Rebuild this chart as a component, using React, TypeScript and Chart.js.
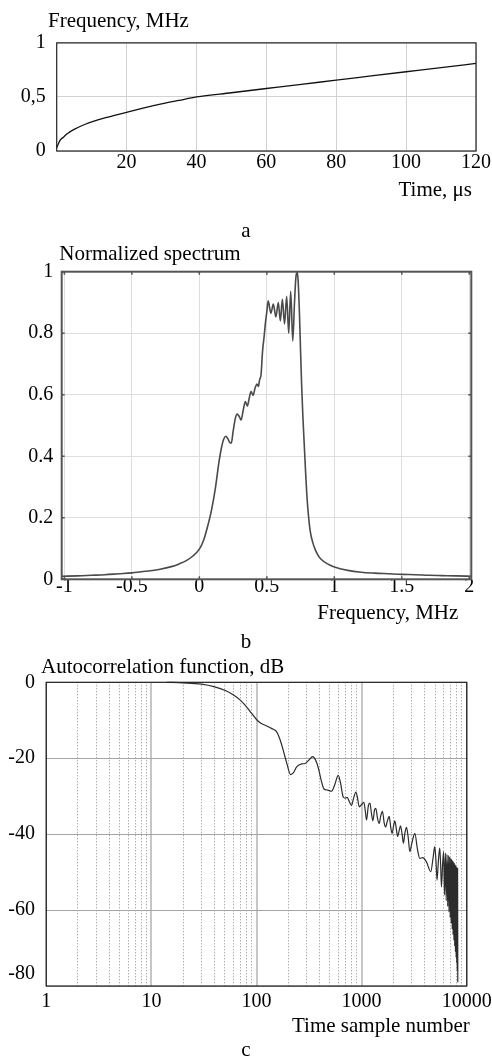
import React, { useEffect, useRef } from 'react';
import { Chart, registerables } from 'chart.js';

Chart.register(...registerables);

const FONT = '"Liberation Serif", "Times New Roman", serif';

// ---------- Panel a: chirp frequency vs time ----------
const A_TIME = [0, 1, 2, 3, 5, 8, 12, 16, 20, 25, 30, 35, 40, 50, 60, 70, 80, 90, 100, 110, 120];
const A_FREQ = [0.03, 0.1, 0.13, 0.16, 0.2, 0.245, 0.29, 0.325, 0.358, 0.398, 0.435, 0.468, 0.5, 0.539, 0.578, 0.617, 0.655, 0.694, 0.733, 0.772, 0.81];
const A_XTICKS = [20, 40, 60, 80, 100, 120];
const A_YTICKS = [0, 0.5, 1];
const A_YTICK_LABELS = ['0', '0,5', '1'];

// ---------- Panel b: normalized spectrum ----------
const B_FREQ = [-1.02, -0.9, -0.8, -0.7, -0.6, -0.5, -0.4, -0.3, -0.2, -0.15, -0.1, -0.05, 0, 0.03, 0.06, 0.09, 0.12, 0.145, 0.165, 0.18, 0.195, 0.21, 0.225, 0.237, 0.25, 0.265, 0.279, 0.295, 0.309, 0.325, 0.341, 0.356, 0.37, 0.383, 0.398, 0.412, 0.427, 0.437, 0.447, 0.457, 0.468, 0.48, 0.49, 0.5, 0.51, 0.53, 0.548, 0.567, 0.585, 0.6, 0.615, 0.631, 0.647, 0.662, 0.677, 0.692, 0.705, 0.715, 0.724, 0.732, 0.742, 0.75, 0.758, 0.767, 0.777, 0.787, 0.797, 0.81, 0.822, 0.84, 0.86, 0.88, 0.9, 0.95, 1.0, 1.1, 1.2, 1.3, 1.4, 1.5, 1.6, 1.7, 1.8, 1.9, 2.015];
const B_SPECTRUM = [0.010, 0.011, 0.013, 0.015, 0.018, 0.021, 0.026, 0.032, 0.042, 0.050, 0.060, 0.075, 0.098, 0.125, 0.170, 0.225, 0.300, 0.380, 0.430, 0.455, 0.465, 0.458, 0.445, 0.443, 0.480, 0.520, 0.537, 0.530, 0.518, 0.550, 0.578, 0.563, 0.590, 0.610, 0.598, 0.620, 0.635, 0.627, 0.650, 0.665, 0.740, 0.790, 0.835, 0.870, 0.905, 0.865, 0.895, 0.853, 0.900, 0.840, 0.910, 0.830, 0.920, 0.800, 0.936, 0.775, 0.900, 0.980, 1.000, 0.970, 0.860, 0.740, 0.630, 0.530, 0.440, 0.350, 0.270, 0.200, 0.155, 0.120, 0.095, 0.078, 0.066, 0.050, 0.040, 0.029, 0.023, 0.020, 0.018, 0.016, 0.015, 0.013, 0.012, 0.011, 0.010];
const B_XTICKS = [-1, -0.5, 0, 0.5, 1, 1.5, 2];
const B_XTICK_LABELS = ['-1', '-0.5', '0', '0.5', '1', '1.5', '2'];
const B_YTICKS = [0, 0.2, 0.4, 0.6, 0.8, 1];
const B_YTICK_LABELS = ['0', '0.2', '0.4', '0.6', '0.8', '1'];

// ---------- Panel c: autocorrelation function (dB) ----------
const C_SAMPLE = [14, 20, 30, 40, 50, 60, 70, 80, 90, 100, 110, 125, 140, 155, 167, 180, 195, 211, 225, 241, 269, 289, 315, 342, 365, 387, 410, 438, 475, 518, 555, 599, 630, 668, 700, 730, 760, 802, 840, 882, 915, 949, 1000, 1050, 1080, 1114, 1160, 1200, 1240, 1280, 1330, 1365, 1420, 1470, 1520, 1580, 1640, 1690, 1760, 1830, 1900, 1950, 2010, 2070, 2150, 2200, 2280, 2345, 2430, 2500, 2580, 2675, 2780, 2875, 3000, 3210, 3400, 3575, 3800, 4140, 4550, 4800, 4966, 5100, 5220, 5380, 5540, 5650, 5750, 5900, 6030, 6150, 6270, 6380, 6490, 6590, 6690, 6780, 6870, 6960, 7040, 7120, 7200, 7280, 7350, 7420, 7490, 7560, 7620, 7690, 7750, 7810, 7870, 7930, 7980, 8040, 8090, 8140, 8190, 8230];
const C_ACF_DB = [0, -0.15, -0.5, -1.2, -2.1, -3.3, -4.7, -6.4, -8.2, -9.8, -10.8, -11.5, -12.2, -13, -15, -18, -21.5, -24.3, -23.8, -22.3, -21.5, -21.4, -20.5, -19.6, -20.5, -22.5, -25.5, -28.1, -28.4, -28.7, -27, -24.5, -26.5, -30.2, -30.5, -30.3, -31.3, -32.4, -30.5, -28.9, -30.5, -32.8, -32.2, -31.6, -33.5, -36.3, -32.5, -31.8, -34.5, -36.5, -33.5, -33.2, -36, -37.2, -35.2, -34, -37, -38.1, -36.5, -35.3, -38.5, -39.8, -38, -36.5, -39, -40.6, -39, -37.8, -40, -42.4, -39.8, -38.2, -41, -44.6, -42.5, -39.8, -44, -46.4, -46.2, -47.3, -49.9, -46, -43.3, -47, -52.1, -47, -43.7, -48, -53.9, -48, -44.6, -56, -45, -57.5, -45.3, -59, -45.6, -60.5, -46, -62, -46.3, -63.5, -46.6, -65, -47, -66.5, -47.3, -68, -47.6, -69.5, -48, -71, -48.3, -72.5, -48.6, -74, -48.8, -76, -49, -79];
const C_XTICKS = [1, 10, 100, 1000, 10000];
const C_XGRID_DECADES = [1, 10, 100, 1000];
const C_XGRID_STEPS = [1, 2, 3, 4, 5, 6, 7, 8, 9];
const C_YTICKS = [-80, -60, -40, -20, 0];

const C_XGRID = C_XGRID_DECADES.flatMap((d) => C_XGRID_STEPS.map((k) => k * d)).concat([10000]);

// Draws the box around the plot area (optionally with short inward tick marks).
const framePlugin = {
  id: 'frame',
  afterDraw(chart: any, _args: any, opts: any) {
    const { ctx, chartArea } = chart;
    const { left, top, right, bottom } = chartArea;
    ctx.save();
    ctx.strokeStyle = opts.color || '#000';
    ctx.lineWidth = opts.width || 1;
    ctx.strokeRect(left, top, right - left, bottom - top);
    if (opts.tickLen) {
      const len = opts.tickLen;
      ctx.lineWidth = 1.5;
      ctx.beginPath();
      const xs = chart.scales.x;
      const ys = chart.scales.y;
      xs.ticks.forEach((t: any) => {
        const px = xs.getPixelForValue(t.value);
        ctx.moveTo(px, top);
        ctx.lineTo(px, top + len);
        ctx.moveTo(px, bottom);
        ctx.lineTo(px, bottom - len);
      });
      ys.ticks.forEach((t: any) => {
        const py = ys.getPixelForValue(t.value);
        ctx.moveTo(left, py);
        ctx.lineTo(left + len, py);
        ctx.moveTo(right, py);
        ctx.lineTo(right - len, py);
      });
      ctx.stroke();
    }
    ctx.restore();
  },
};

// Moves the chart title and the x-axis title horizontally (layout only).
const shiftPlugin = {
  id: 'shift',
  afterLayout(chart: any, _args: any, opts: any) {
    const t = chart.titleBlock;
    if (t && typeof opts.titleLeft === 'number') {
      const w = t.right - t.left;
      t.left = opts.titleLeft;
      t.right = opts.titleLeft + w;
    }
    const x = chart.scales && chart.scales.x;
    if (x && typeof opts.xTitleDx === 'number') {
      x.right = x.right + opts.xTitleDx;
    }
  },
};

const tickFont = { family: FONT, size: 20, weight: 'normal' as const };
const titleFont = { family: FONT, size: 21, weight: 'normal' as const };

function setTicks(list: number[]) {
  return (scale: any) => {
    scale.ticks = list.map((v) => ({ value: v }));
  };
}
function fixX(h: number) {
  return (scale: any) => {
    scale.height = h;
    scale.paddingLeft = 0;
    scale.paddingRight = 0;
  };
}
function fixY(w: number) {
  return (scale: any) => {
    scale.width = w;
    scale.paddingTop = 0;
    scale.paddingBottom = 0;
  };
}
function labelFrom(values: number[], labels: string[]) {
  return (v: number) => {
    const i = values.findIndex((t) => Math.abs(t - v) < 1e-9);
    return i >= 0 ? labels[i] : '';
  };
}

function pts(xs: number[], ys: number[]) {
  return xs.map((x, i) => ({ x, y: ys[i] }));
}

function configA(): any {
  return {
    type: 'scatter',
    data: {
      datasets: [
        {
          data: pts(A_TIME, A_FREQ),
          showLine: true,
          borderColor: '#111',
          borderWidth: 1.3,
          pointRadius: 0,
          cubicInterpolationMode: 'monotone',
          clip: false,
        },
      ],
    },
    options: {
      animation: false,
      responsive: false,
      devicePixelRatio: 1,
      layout: { padding: { left: 0, right: 16, top: 0, bottom: 37 } },
      plugins: {
        legend: { display: false },
        tooltip: { enabled: false },
        title: {
          display: true,
          text: 'Frequency, MHz',
          align: 'start',
          color: '#000',
          font: titleFont,
          padding: { top: 9, bottom: 8.7 },
        },
        frame: { color: '#222', width: 1.2 },
        shift: { titleLeft: 48, xTitleDx: -4 },
      },
      scales: {
        x: {
          type: 'linear',
          min: 0,
          max: 120,
          afterBuildTicks: setTicks(A_XTICKS),
          afterFit: fixX(52),
          grid: { color: '#d2d2d2', lineWidth: 1, drawTicks: false },
          border: { display: false },
          ticks: { color: '#000', font: tickFont, padding: 0, maxRotation: 0, autoSkip: false },
          title: { display: true, text: 'Time, μs', align: 'end', color: '#000', font: titleFont, padding: { top: 0, bottom: 0 } },
        },
        y: {
          type: 'linear',
          min: 0,
          max: 1,
          afterBuildTicks: setTicks(A_YTICKS),
          afterFit: fixY(56.7),
          grid: { color: '#d2d2d2', lineWidth: 1, drawTicks: false },
          border: { display: false },
          ticks: {
            color: '#000',
            font: tickFont,
            padding: 11,
            autoSkip: false,
            callback: labelFrom(A_YTICKS, A_YTICK_LABELS),
          },
        },
      },
    },
    plugins: [framePlugin, shiftPlugin],
  };
}

function configB(): any {
  return {
    type: 'scatter',
    data: {
      datasets: [
        {
          data: pts(B_FREQ, B_SPECTRUM),
          showLine: true,
          borderColor: '#4a4a4a',
          borderWidth: 1.6,
          pointRadius: 0,
          cubicInterpolationMode: 'monotone',
          clip: false,
        },
      ],
    },
    options: {
      animation: false,
      responsive: false,
      devicePixelRatio: 1,
      layout: { padding: { left: 0, right: 20.7, top: 0, bottom: 14.4 } },
      plugins: {
        legend: { display: false },
        tooltip: { enabled: false },
        title: {
          display: true,
          text: 'Normalized spectrum',
          align: 'start',
          color: '#000',
          font: titleFont,
          padding: { top: 2, bottom: 4.5 },
        },
        frame: { color: '#555', width: 2, tickLen: 3 },
        shift: { titleLeft: 59.3, xTitleDx: -13 },
      },
      scales: {
        x: {
          type: 'linear',
          min: -1.02,
          max: 2.015,
          afterBuildTicks: setTicks(B_XTICKS),
          afterFit: fixX(46.3),
          grid: { color: '#dedede', lineWidth: 1, drawTicks: false },
          border: { display: false },
          ticks: {
            color: '#000',
            font: { ...tickFont, lineHeight: '14px' },
            padding: 0,
            maxRotation: 0,
            autoSkip: false,
            callback: labelFrom(B_XTICKS, B_XTICK_LABELS),
          },
          title: { display: true, text: 'Frequency, MHz', align: 'end', color: '#000', font: titleFont, padding: { top: 0, bottom: 0 } },
        },
        y: {
          type: 'linear',
          min: 0,
          max: 1,
          afterBuildTicks: setTicks(B_YTICKS),
          afterFit: fixY(61.7),
          grid: { color: '#dedede', lineWidth: 1, drawTicks: false },
          border: { display: false },
          ticks: {
            color: '#000',
            font: tickFont,
            padding: 8.4,
            autoSkip: false,
            callback: labelFrom(B_YTICKS, B_YTICK_LABELS),
          },
        },
      },
    },
    plugins: [framePlugin, shiftPlugin],
  };
}

function configC(): any {
  const isMajor = (ctx: any) => C_XTICKS.includes(ctx?.tick?.value);
  return {
    type: 'scatter',
    data: {
      datasets: [
        {
          data: pts(C_SAMPLE, C_ACF_DB),
          showLine: true,
          borderColor: '#2c2c2c',
          borderWidth: 1.2,
          pointRadius: 0,
          cubicInterpolationMode: 'monotone',
          clip: false,
        },
      ],
    },
    options: {
      animation: false,
      responsive: false,
      devicePixelRatio: 1,
      layout: { padding: { left: 0, right: 25.3, top: 0, bottom: 23.2 } },
      plugins: {
        legend: { display: false },
        tooltip: { enabled: false },
        title: {
          display: true,
          text: 'Autocorrelation function, dB',
          align: 'start',
          color: '#000',
          font: titleFont,
          padding: { top: 14.6, bottom: 2.5 },
        },
        frame: { color: '#222', width: 1.2 },
        shift: { titleLeft: 41, xTitleDx: 3 },
      },
      scales: {
        x: {
          type: 'logarithmic',
          min: 1,
          max: 10000,
          afterBuildTicks: setTicks(C_XGRID),
          afterFit: fixX(52.8),
          grid: {
            color: (ctx: any) => (isMajor(ctx) ? '#c6c6c6' : '#8c8c8c'),
            lineWidth: (ctx: any) => (isMajor(ctx) ? 2 : 1),
            drawTicks: false,
          },
          border: { display: false, dash: (ctx: any) => (isMajor(ctx) ? [] : [1, 2]) },
          ticks: {
            color: '#000',
            font: tickFont,
            padding: 3.9,
            maxRotation: 0,
            minRotation: 0,
            autoSkip: false,
            callback: (v: number) => (C_XTICKS.includes(v) ? String(v) : ''),
          },
          title: { display: true, text: 'Time sample number', align: 'end', color: '#000', font: titleFont, padding: { top: 0, bottom: 0 } },
        },
        y: {
          type: 'linear',
          min: -80,
          max: 0,
          afterBuildTicks: setTicks(C_YTICKS),
          afterFit: fixY(46.3),
          grid: { color: '#a4a4a4', lineWidth: 1, drawTicks: false },
          border: { display: false },
          ticks: {
            color: '#000',
            font: tickFont,
            padding: 11.3,
            autoSkip: false,
            // the bottom label sits one half line above its tick, as in the original figure
            callback: (v: number) => (v === C_YTICKS[0] ? [String(v), ''] : String(v)),
          },
        },
      },
    },
    plugins: [framePlugin, shiftPlugin],
  };
}

function ChartPanel({ top, height, build }: { top: number; height: number; build: () => any }) {
  const ref = useRef<HTMLCanvasElement | null>(null);
  useEffect(() => {
    if (!ref.current) return;
    const chart = new Chart(ref.current, build());
    return () => chart.destroy();
  }, []);
  return (
    <canvas
      ref={ref}
      width={492}
      height={height}
      style={{ position: 'absolute', left: 0, top, width: 492, height, display: 'block' }}
    />
  );
}

function Caption({ text, top }: { text: string; top: number }) {
  return (
    <div
      style={{
        position: 'absolute',
        left: 0,
        top,
        width: 492,
        textAlign: 'center',
        fontFamily: FONT,
        fontSize: 21,
        lineHeight: '21px',
        color: '#000',
      }}
    >
      {text}
    </div>
  );
}

export default function App() {
  return (
    <div style={{ position: 'absolute', left: 0, top: 0, width: 492, height: 1062, background: '#fff', overflow: 'hidden' }}>
      <ChartPanel top={0} height={240} build={configA} />
      <ChartPanel top={240} height={400} build={configB} />
      <ChartPanel top={640} height={422} build={configC} />
      <Caption text="a" top={220} />
      <Caption text="b" top={631} />
      <Caption text="c" top={1039} />
    </div>
  );
}
